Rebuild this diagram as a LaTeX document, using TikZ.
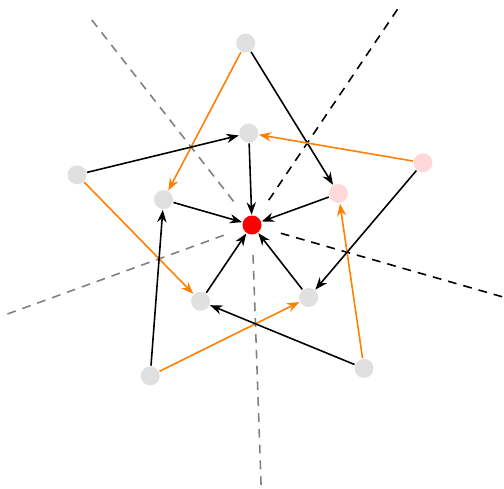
\documentclass[tikz,border=0pt]{standalone}
\usepackage{tikz}
\usetikzlibrary{arrows.meta}
\definecolor{agentgray}{RGB}{224,224,224}
\definecolor{agentpink}{RGB}{255,217,217}
\definecolor{linkorange}{RGB}{255,128,0}

\begin{document}
\begin{tikzpicture}[>=Stealth,line width=0.9pt,
    agent/.style={circle,inner sep=0pt,minimum size=0.38cm},
    border/.style={line width=0.9pt,dash pattern=on 5pt off 4pt}]
    \useasboundingbox (-5.04,-5.26) rectangle (5.04,4.5);

    % Sector borders
    \foreach \a/\c in {56/black,128/gray,200/gray,272/gray,344/black}
        \draw[border,\c] (\a:0.6) -- (\a:5.26);

    % Agents
    \node[agent,fill=red] (c) at (0,0) {};
    \foreach \k/\f in {0/agentgray,1/agentgray,2/agentgray,3/agentgray,4/agentpink} {
        \node[agent,fill=\f] (i\k) at ({92+72*\k}:1.84) {};
        \node[agent,fill=\f] (o\k) at ({92+72*\k}:3.64) {};
    }

    % Links to the centre
    \foreach \k in {0,...,4}
        \draw[->] (i\k) -- (c);

    % Outer to inner
    \foreach \k in {0,...,4} {
        \pgfmathtruncatemacro{\p}{mod(\k+4,5)}
        \pgfmathtruncatemacro{\n}{mod(\k+1,5)}
        \draw[->] (o\k) -- (i\p);
        \draw[->,linkorange] (o\k) -- (i\n);
    }
\end{tikzpicture}
\end{document}
